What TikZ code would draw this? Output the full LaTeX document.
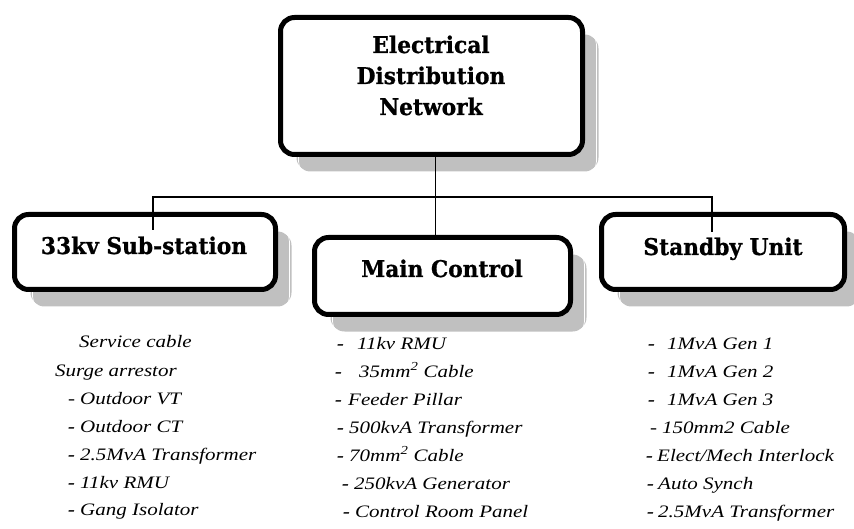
\documentclass[tikz,border=0pt]{standalone}
\usepackage{fontspec}
\setmainfont{Liberation Serif}
\newfontfamily\titlefont[FakeStretch=1.05, BoldFeatures={FakeBold=0.8}]{DejaVu Serif Condensed}
\newfontfamily\listfont[FakeStretch=1.2]{Liberation Serif}
\definecolor{shadowgray}{HTML}{C0C0C0}
\tikzset{
  box/.style={draw=black, line width=5pt, rounded corners=14pt, fill=white, inner sep=0pt},
  shadowbox/.style={fill=shadowgray, rounded corners=14pt},
  shadowline/.style={draw=white, line width=0.6pt, rounded corners=12pt},
  title/.style={font=\titlefont\bfseries\fontsize{23}{31}\selectfont, inner sep=0pt, align=center, anchor=base},
  item/.style={font=\listfont\itshape\fontsize{17.5}{20}\selectfont, inner sep=0pt, anchor=base west},
  link/.style={draw=black, line width=1.2pt},
}
\newcommand{\dsh}[1]{\makebox[#1pt][l]{\bfseries -}}
\newcommand{\tdsh}[1]{\makebox[#1pt][l]{-}}
\newcommand{\shadowof}[1]{%
  \fill[shadowbox] ([shift={(16,17)}]#1.south west) rectangle ([shift={(16,17)}]#1.north east);
  \draw[shadowline] ([shift={(18,19)}]#1.south west) rectangle ([shift={(14,15)}]#1.north east);
}
\begin{document}
\begin{tikzpicture}[x=1pt, y=-1pt]
\useasboundingbox (0,0) rectangle (854,529);
% boxes (positions in px, y downwards)
\path (431.5,86) node[minimum width=302pt, minimum height=137pt, inner sep=0pt, outer sep=0pt] (top) {};
\path (145,252) node[minimum width=261pt, minimum height=75pt, inner sep=0pt, outer sep=0pt] (sub) {};
\path (442.5,276) node[minimum width=256pt, minimum height=77pt, inner sep=0pt, outer sep=0pt] (main) {};
\path (723,252) node[minimum width=243pt, minimum height=75pt, inner sep=0pt, outer sep=0pt] (stand) {};
% shadows
\shadowof{top}
\shadowof{sub}
\shadowof{main}
\shadowof{stand}
% box outlines
\draw[box] (top.south west) rectangle (top.north east);
\draw[box] (sub.south west) rectangle (sub.north east);
\draw[box] (main.south west) rectangle (main.north east);
\draw[box] (stand.south west) rectangle (stand.north east);
% titles
\node[title] (ttop) at (431,115) {Electrical\\Distribution\\Network};
\node[title] (tsub) at (144,254) {33kv Sub-station};
\node[title] (tmain) at (442,277) {Main Control};
\node[title] (tstand) at (723,255) {Standby Unit};
% connectors
\coordinate (bus) at (435.5,197);
\coordinate (subend) at (153,230);
\coordinate (standend) at (712,232);
\draw[link] ([xshift=4pt,yshift=2.5pt]top.south) |- (bus);
\draw[link] (subend) |- (bus -| standend) -- (standend);
\draw[link] (bus) -- ([yshift=2.5pt]main.north -| bus);
% left list
\node[item] (l1) at (79,348) {Service cable};
\node[item] (l2) at (55,376) {Surge arrestor};
\node[item] (l3) at (68,404) {\tdsh{12}Outdoor VT};
\node[item] (l4) at (68,432) {\dsh{12}Outdoor CT};
\node[item] (l5) at (68,460) {\dsh{12}2.5MvA Transformer};
\node[item] (l6) at (68,488) {\dsh{12}11kv RMU};
\node[item] (l7) at (68,515) {\dsh{12}Gang Isolator};
% middle list
\node[item] (m1) at (337,349) {\dsh{20}11kv RMU};
\node[item] (m2) at (335,377) {\dsh{24}35mm\textsuperscript{2} Cable};
\node[item] (m3) at (335,405) {\dsh{13}Feeder Pillar};
\node[item] (m4) at (337,433) {\dsh{12}500kvA Transformer};
\node[item] (m5) at (337,461) {\dsh{12}70mm\textsuperscript{2} Cable};
\node[item] (m6) at (342,489) {\dsh{12}250kvA Generator};
\node[item] (m7) at (343,517) {\dsh{12}Control Room Panel};
% right list
\node[item] (r1) at (648,349) {\dsh{19}1MvA Gen 1};
\node[item] (r2) at (648,377) {\dsh{19}1MvA Gen 2};
\node[item] (r3) at (648,405) {\dsh{19}1MvA Gen 3};
\node[item] (r4) at (650,433) {\tdsh{12}150mm2 Cable};
\node[item] (r5) at (646,461) {\dsh{11}Elect/Mech Interlock};
\node[item] (r6) at (647,489) {\dsh{11}Auto Synch};
\node[item] (r7) at (647,517) {\dsh{11}2.5MvA Transformer};
\end{tikzpicture}
\end{document}
